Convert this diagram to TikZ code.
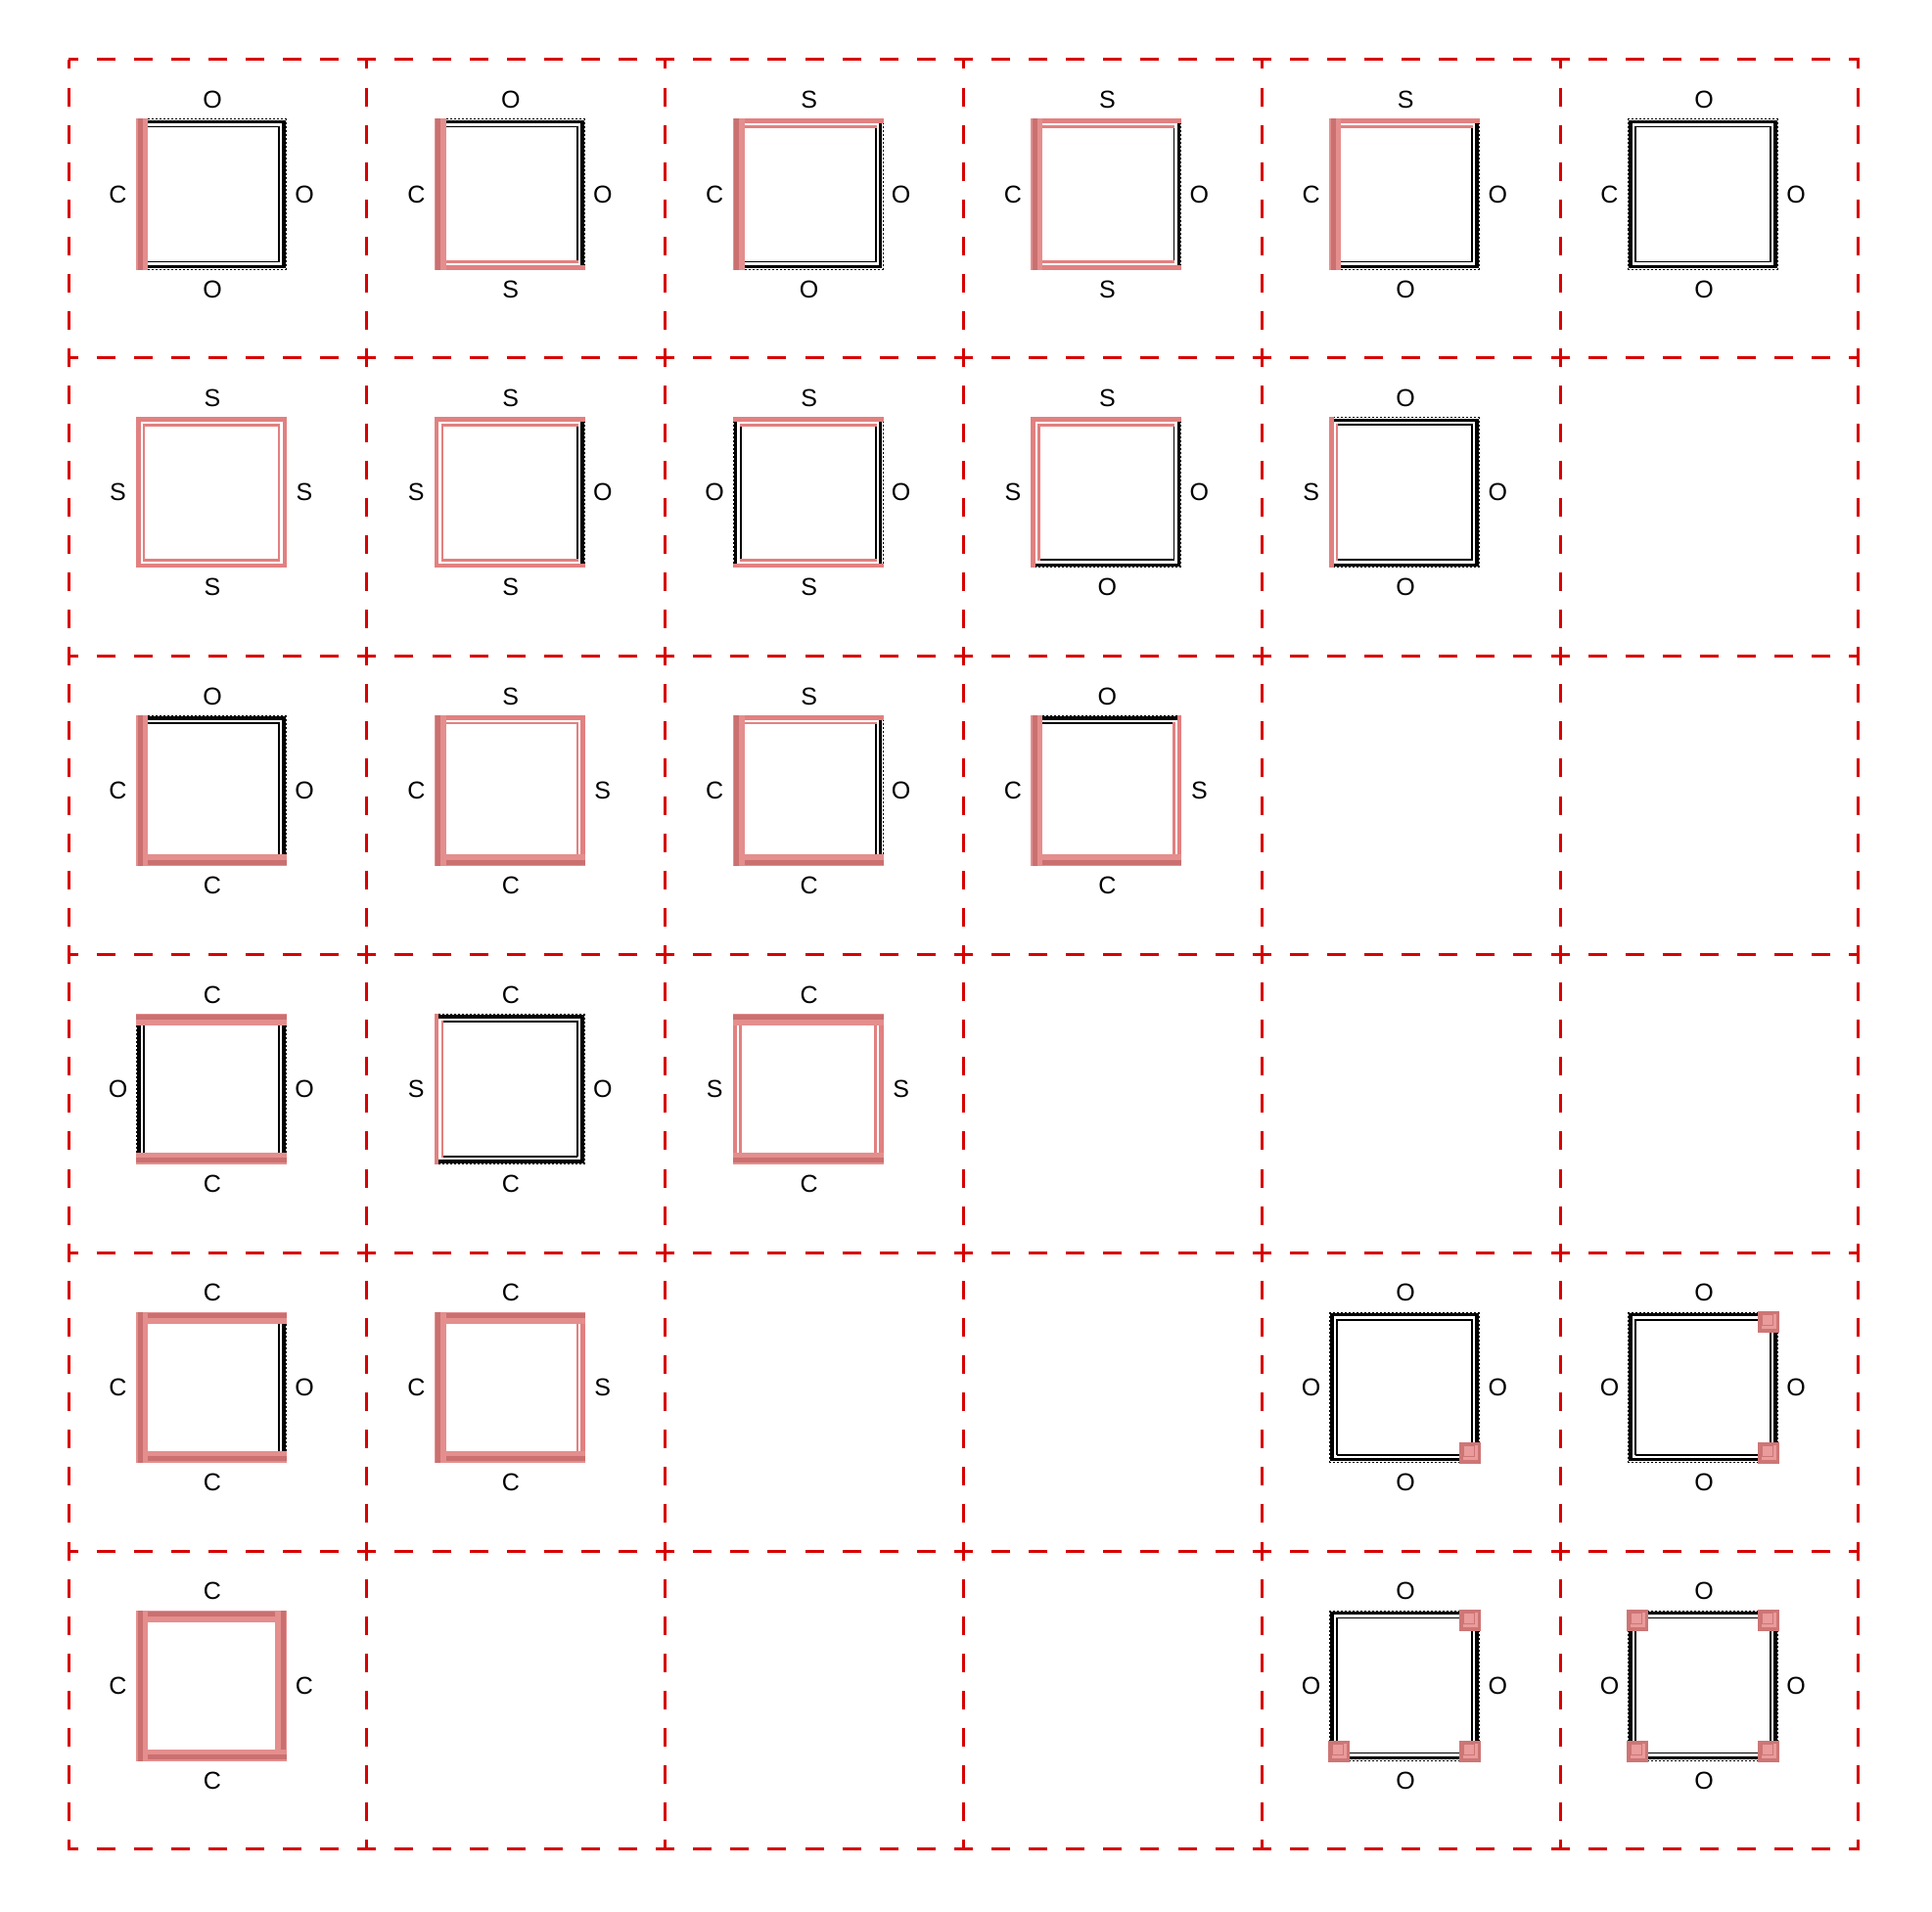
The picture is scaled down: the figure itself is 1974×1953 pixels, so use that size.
\documentclass[tikz,border=0pt]{standalone}
\usepackage{fontspec}
\setmainfont{Liberation Sans}
\definecolor{gridred}{RGB}{215,0,0}
\definecolor{spink}{RGB}{226,128,128}
\definecolor{cfill}{RGB}{228,142,142}
\definecolor{cdark}{RGB}{202,112,112}
\definecolor{kfill}{RGB}{234,155,155}
\definecolor{kdark}{RGB}{205,118,118}
\tikzset{
  gridline/.style={gridred, line width=1.5pt, dash pattern=on 9.5pt off 9.55pt, dash phase=4.75pt},
  oout/.style={line width=1.75pt, black},
  oin/.style={line width=0.9pt, black},
  odot/.style={line width=0.5pt, black, dash pattern=on 1pt off 1pt},
  sout/.style={line width=2.25pt, spink},
  sin/.style={line width=1.25pt, spink},
  lab/.style={font=\fontsize{12.5}{14}\selectfont, inner sep=0pt, anchor=center}
}
% side drawings in local pixel coordinates (square of 154 px, y downwards)
\def\sideTO{\draw[odot](0,0.5)--(154,0.5);\draw[oout](1.25,3)--(152.75,3);\draw[oin](7.5,8)--(146.5,8);}
\def\sideBO{\draw[odot](0,153.5)--(154,153.5);\draw[oout](1.25,151)--(152.75,151);\draw[oin](7.5,146)--(146.5,146);}
\def\sideLO{\draw[odot](0.5,0)--(0.5,154);\draw[oout](3,1.25)--(3,152.75);\draw[oin](8,7.5)--(8,146.5);}
\def\sideRO{\draw[odot](153.5,0)--(153.5,154);\draw[oout](151,1.25)--(151,152.75);\draw[oin](146,7.5)--(146,146.5);}
\def\sideTS{\draw[sout](0,2.25)--(154,2.25);\draw[sin](7,8)--(147,8);}
\def\sideBS{\draw[sout](0,151.75)--(154,151.75);\draw[sin](7,146)--(147,146);}
\def\sideLS{\draw[sout](2.25,0)--(2.25,154);\draw[sin](8,7)--(8,147);}
\def\sideRS{\draw[sout](151.75,0)--(151.75,154);\draw[sin](146,7)--(146,147);}
\def\sideTC{\fill[cfill](0,0)rectangle(154,12);\fill[cdark](0,1.5)rectangle(154,6.5);}
\def\sideBC{\fill[cfill](0,142)rectangle(154,154);\fill[cdark](0,147.5)rectangle(154,152.5);}
\def\sideLC{\fill[cfill](0,0)rectangle(12,154);\fill[cdark](1.5,0)rectangle(6.5,154);}
\def\sideRC{\fill[cfill](142,0)rectangle(154,154);\fill[cdark](147.5,0)rectangle(152.5,154);}
\def\sidepass#1#2#3{\if#1#3\csname side#2#3\endcsname\fi}
\newcommand\sq[6]{%
  \begin{scope}[shift={(139+304.8*#1,121.5+304.8*#2)}]
    \foreach \p in {O,S,C}{\sidepass{\p}{T}{#3}\sidepass{\p}{R}{#4}\sidepass{\p}{B}{#5}\sidepass{\p}{L}{#6}}
  \end{scope}}
\newcommand\labs[6]{%
  \begin{scope}[shift={(139+304.8*#1,121.5+304.8*#2)}]
    \node[lab] (t#1#2) at (78,-19.5) {#3};
    \node[lab] (r#1#2) at (172,77) {#4};
    \node[lab] (b#1#2) at (78,174) {#5};
    \node[lab] (l#1#2) at (-18.5,77) {#6};
  \end{scope}}
\newcommand\kb[4]{% col,row,x,y
  \begin{scope}[shift={(139+304.8*#1,121.5+304.8*#2)}]
    \fill[kdark](#3-1,#4-1) rectangle ++(22,22);
    \fill[kfill](#3+2.5,#4+2.5) rectangle ++(15,15);
    \draw[kdark,line width=0.4pt](#3+3,#4+3) rectangle ++(11,11);
  \end{scope}}
\begin{document}
\begin{tikzpicture}[x=0.5pt,y=-0.5pt]
\useasboundingbox (0,0) rectangle (1974,1953);
\fill[white] (0,0) rectangle (1974,1953);
% grid of dashed cells
\foreach \c in {0,...,5}{\foreach \r in {0,...,5}{
  \draw[gridline] (70+304.8*\c,61+304.8*\r) rectangle ++(304.8,304.8);}}
% row 0
\sq{0}{0}{O}{O}{O}{C}\labs{0}{0}{O}{O}{O}{C}
\sq{1}{0}{O}{O}{S}{C}\labs{1}{0}{O}{O}{S}{C}
\sq{2}{0}{S}{O}{O}{C}\labs{2}{0}{S}{O}{O}{C}
\sq{3}{0}{S}{O}{S}{C}\labs{3}{0}{S}{O}{S}{C}
\sq{4}{0}{S}{O}{O}{C}\labs{4}{0}{S}{O}{O}{C}
\sq{5}{0}{O}{O}{O}{O}\labs{5}{0}{O}{O}{O}{C}
% row 1
\sq{0}{1}{S}{S}{S}{S}\labs{0}{1}{S}{S}{S}{S}
\sq{1}{1}{S}{O}{S}{S}\labs{1}{1}{S}{O}{S}{S}
\sq{2}{1}{S}{O}{S}{O}\labs{2}{1}{S}{O}{S}{O}
\sq{3}{1}{S}{O}{O}{S}\labs{3}{1}{S}{O}{O}{S}
\sq{4}{1}{O}{O}{O}{S}\labs{4}{1}{O}{O}{O}{S}
% row 2
\sq{0}{2}{O}{O}{C}{C}\labs{0}{2}{O}{O}{C}{C}
\sq{1}{2}{S}{S}{C}{C}\labs{1}{2}{S}{S}{C}{C}
\sq{2}{2}{S}{O}{C}{C}\labs{2}{2}{S}{O}{C}{C}
\sq{3}{2}{O}{S}{C}{C}\labs{3}{2}{O}{S}{C}{C}
% row 3
\sq{0}{3}{C}{O}{C}{O}\labs{0}{3}{C}{O}{C}{O}
\sq{1}{3}{O}{O}{O}{S}\labs{1}{3}{C}{O}{C}{S}
\sq{2}{3}{C}{S}{C}{S}\labs{2}{3}{C}{S}{C}{S}
% row 4
\sq{0}{4}{C}{O}{C}{C}\labs{0}{4}{C}{O}{C}{C}
\sq{1}{4}{C}{S}{C}{C}\labs{1}{4}{C}{S}{C}{C}
\sq{4}{4}{O}{O}{O}{O}\labs{4}{4}{O}{O}{O}{O}
\kb{4}{4}{134}{134}
\sq{5}{4}{O}{O}{O}{O}\labs{5}{4}{O}{O}{O}{O}
\kb{5}{4}{134}{0}\kb{5}{4}{134}{134}
% row 5
\sq{0}{5}{C}{C}{C}{C}\labs{0}{5}{C}{C}{C}{C}
\sq{4}{5}{O}{O}{O}{O}\labs{4}{5}{O}{O}{O}{O}
\kb{4}{5}{134}{0}\kb{4}{5}{0}{134}\kb{4}{5}{134}{134}
\sq{5}{5}{O}{O}{O}{O}\labs{5}{5}{O}{O}{O}{O}
\kb{5}{5}{0}{0}\kb{5}{5}{134}{0}\kb{5}{5}{0}{134}\kb{5}{5}{134}{134}
\end{tikzpicture}
\end{document}
